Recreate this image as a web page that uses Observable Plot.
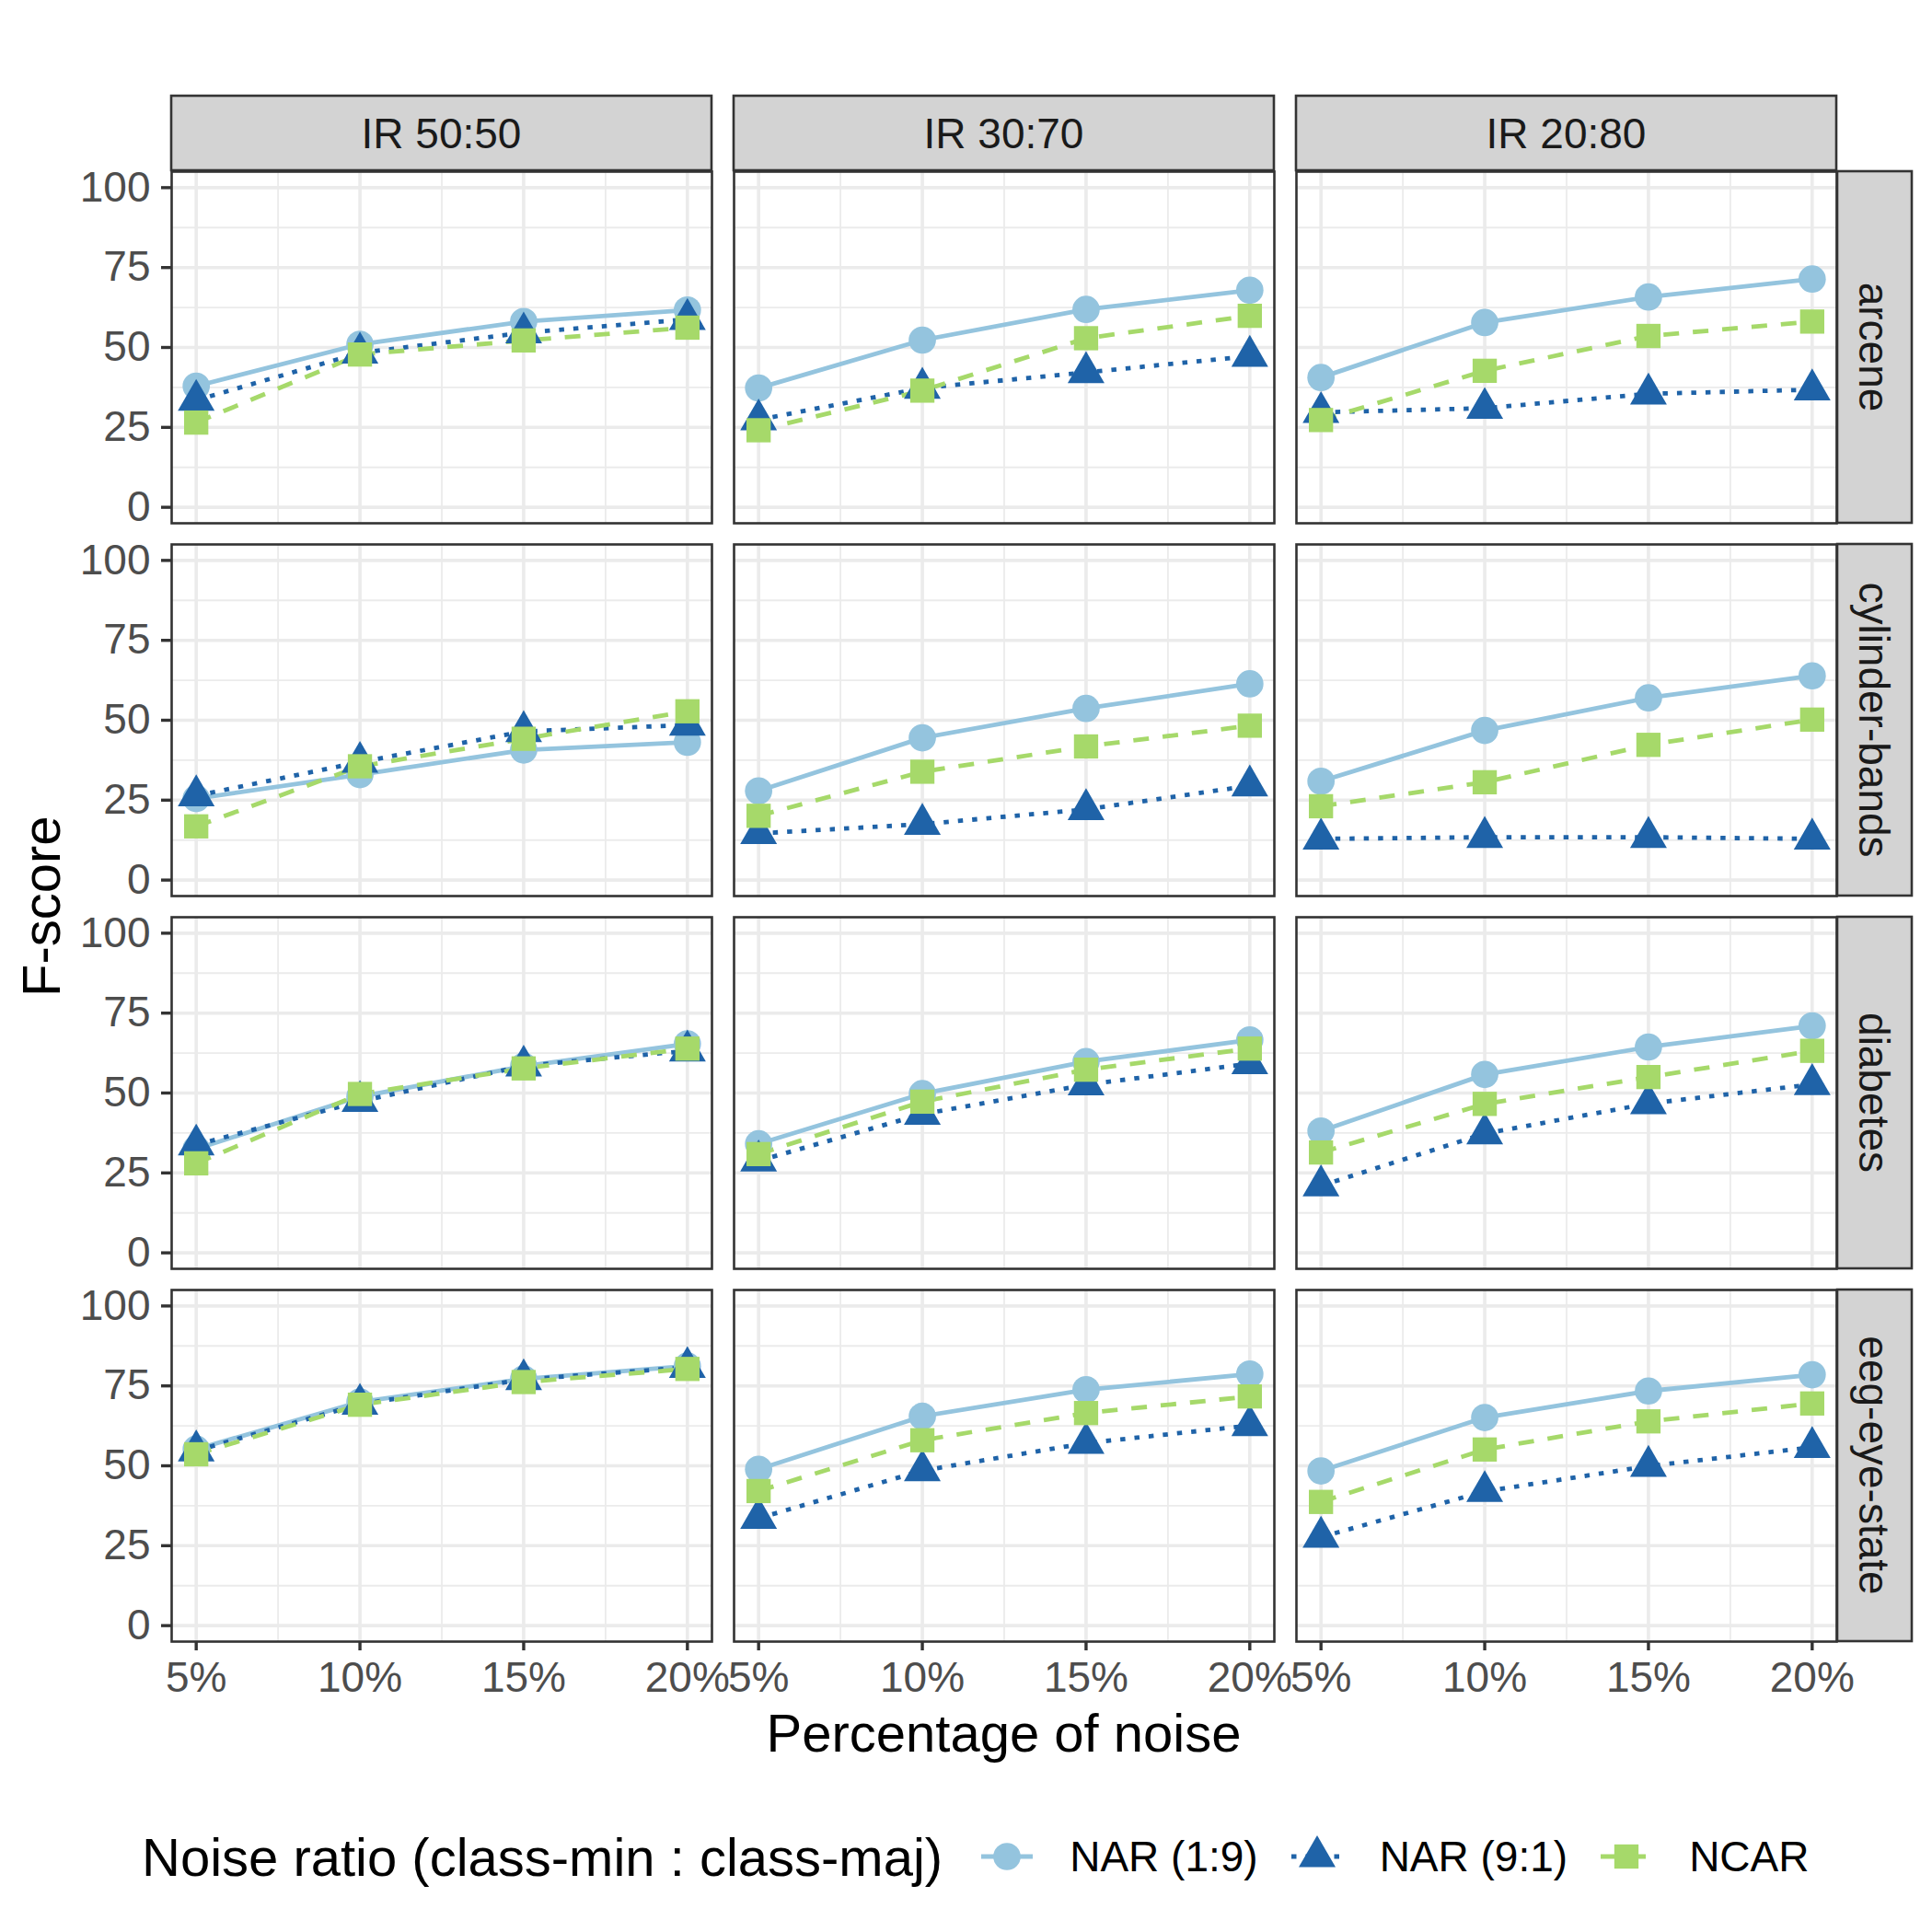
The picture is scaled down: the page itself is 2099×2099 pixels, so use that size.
<!DOCTYPE html>
<html>
<head>
<meta charset="utf-8">
<script src="https://cdn.jsdelivr.net/npm/d3@7"></script>
<script src="https://cdn.jsdelivr.net/npm/@observablehq/plot@0.6"></script>
<style>
  html, body { margin: 0; padding: 0; background: #ffffff; }
  body { font-family: "Liberation Sans", Arial, Helvetica, sans-serif; width: 2099px; }
  #legend { display: flex; align-items: center; height: 154px; padding-left: 154px; color: #000; white-space: nowrap; }
  #legend .ltitle { font-size: 58px; margin-right: 42px; }
  #legend .llabel { font-size: 46px; margin-left: 40px; margin-right: 36px; }
  #legend svg { display: block; }
</style>
</head>
<body>
<div id="chart"></div>
<div id="legend"></div>
<script>
// ---------- data ----------
const irLevels = ["IR 50:50", "IR 30:70", "IR 20:80"];
const datasets = ["arcene", "cylinder-bands", "diabetes", "eeg-eye-state"];
const noiseLevels = [5, 10, 15, 20];
const seriesNames = ["NAR (1:9)", "NAR (9:1)", "NCAR"];
const xTicks = [5, 10, 15, 20];
const xMinor = [7.5, 12.5, 17.5];
const yTicks = [0, 25, 50, 75, 100];
const yMinor = [12.5, 37.5, 62.5, 87.5];

// F-score values: IR 50:50 (5,10,15,20%), IR 30:70 (...), IR 20:80 (...)
const arceneNAR19   = [37.9, 51.0, 58.1, 61.7, 37.3, 52.3, 61.9, 67.9, 40.6, 57.8, 65.8, 71.4];
const arceneNAR91   = [33.5, 48.3, 54.6, 58.8, 27.4, 37.3, 42.2, 47.3, 29.7, 31.0, 35.5, 36.8];
const arceneNCAR    = [26.5, 47.8, 52.2, 56.2, 24.1, 36.5, 52.9, 59.9, 27.3, 42.7, 53.6, 58.1];
const cylinderNAR19 = [25.5, 33.0, 40.7, 43.1, 27.9, 44.5, 53.7, 61.4, 30.9, 46.8, 57.0, 63.9];
const cylinderNAR91 = [26.4, 36.9, 46.5, 48.5, 14.6, 17.5, 22.1, 29.5, 12.9, 13.4, 13.4, 12.9];
const cylinderNCAR  = [16.8, 35.6, 44.2, 52.8, 20.1, 33.9, 41.8, 48.3, 23.1, 30.6, 42.3, 50.2];
const diabetesNAR19 = [32.5, 48.9, 58.4, 65.4, 34.1, 49.8, 59.8, 66.6, 38.1, 55.8, 64.4, 71.0];
const diabetesNAR91 = [33.8, 47.4, 58.5, 63.2, 28.8, 43.4, 52.6, 59.2, 21.0, 37.3, 46.7, 52.7];
const diabetesNCAR  = [28.0, 49.7, 57.7, 63.9, 30.9, 47.3, 57.3, 63.9, 31.4, 46.6, 55.0, 63.2];
const eegNAR19      = [55.2, 70.0, 77.2, 81.2, 48.9, 65.5, 73.8, 78.7, 48.4, 65.1, 73.4, 78.5];
const eegNAR91      = [54.7, 69.3, 77.0, 80.8, 33.6, 48.5, 57.1, 62.6, 27.7, 42.0, 49.9, 55.8];
const eegNCAR       = [53.6, 69.1, 76.2, 80.3, 42.1, 58.0, 66.5, 71.7, 38.7, 55.1, 63.9, 69.5];

const seriesColors = ["#94c4de", "#1f63a8", "#a6d96a"];
const seriesSymbols = ["circle", "triangle", "square"];
const seriesDash = [null, "5.5,10", "17,15"];

// ---------- table ----------
const byDataset = {
  "arcene": [arceneNAR19, arceneNAR91, arceneNCAR],
  "cylinder-bands": [cylinderNAR19, cylinderNAR91, cylinderNCAR],
  "diabetes": [diabetesNAR19, diabetesNAR91, diabetesNCAR],
  "eeg-eye-state": [eegNAR19, eegNAR91, eegNCAR]
};
const rows = [];
seriesNames.forEach((s, si) => {
  datasets.forEach(ds => {
    irLevels.forEach((ir, ii) => {
      noiseLevels.forEach((n, ni) => {
        rows.push({series: s, dataset: ds, ir: ir, noise: n, value: byDataset[ds][si][ii * 4 + ni]});
      });
    });
  });
});

// ---------- plot ----------
const W = 2099, H = 1940;
const FONT = "'Liberation Sans', Arial, Helvetica, sans-serif";
const panelBottom = 1784.5;
const LW = 4.8;

const chart = Plot.plot({
  width: W,
  height: H,
  marginLeft: 185,
  marginRight: 103,
  marginTop: 185,
  marginBottom: H - panelBottom,
  style: {fontFamily: FONT, fontSize: "46px", background: "#ffffff", overflow: "visible"},
  fx: {domain: irLevels, paddingInner: 0.04, paddingOuter: 0, axis: null, label: null},
  fy: {domain: datasets, paddingInner: 0.0567, paddingOuter: 0, axis: null, label: null},
  x: {domain: [4.25, 20.75], label: null},
  y: {domain: [-5, 105], label: null},
  symbol: {domain: seriesNames, range: seriesSymbols},
  color: {domain: seriesNames, range: seriesColors},
  marks: [
    Plot.gridX(xMinor, {stroke: "#EBEBEB", strokeOpacity: 1, strokeWidth: 1.8}),
    Plot.gridY(yMinor, {stroke: "#EBEBEB", strokeOpacity: 1, strokeWidth: 1.8}),
    Plot.gridX(xTicks, {stroke: "#EBEBEB", strokeOpacity: 1, strokeWidth: 3.6}),
    Plot.gridY(yTicks, {stroke: "#EBEBEB", strokeOpacity: 1, strokeWidth: 3.6}),
    ...seriesNames.map((s, si) => Plot.line(rows.filter(r => r.series === s), {
      x: "noise", y: "value", fx: "ir", fy: "dataset",
      stroke: seriesColors[si], strokeWidth: LW,
      strokeDasharray: seriesDash[si], strokeLinecap: "butt", strokeLinejoin: "round"
    })),
    Plot.dot(rows, {
      x: "noise", y: "value", fx: "ir", fy: "dataset",
      symbol: "series", fill: "series", stroke: null, r: 14.85
    }),
    Plot.frame({stroke: "#333333", strokeWidth: 2.6}),
    Plot.axisX(xTicks, {
      anchor: "bottom", tickFormat: d => d + "%", tickSize: 10, tickPadding: 12,
      stroke: "#333333", strokeWidth: 3.4, fill: "#4D4D4D", fontSize: 46, label: null
    }),
    Plot.axisY(yTicks, {
      anchor: "left", tickSize: 11, tickPadding: 12,
      stroke: "#333333", strokeWidth: 3.4, fill: "#4D4D4D", fontSize: 46, label: null
    })
  ]
});
document.getElementById("chart").appendChild(chart);

// ---------- strips & titles ----------
const svg = d3.select(chart);
const fxS = chart.scale("fx"), fyS = chart.scale("fy");
const stripTop = 104, stripH = 185 - 104;
const stripLeft = W - 103, stripW = 81;
const gStrip = svg.append("g").attr("font-family", FONT).attr("font-size", 46);

irLevels.forEach(ir => {
  const x0 = fxS.apply(ir), bw = fxS.bandwidth;
  gStrip.append("rect").attr("x", x0).attr("y", stripTop).attr("width", bw).attr("height", stripH)
    .attr("fill", "#D3D3D3").attr("stroke", "#333333").attr("stroke-width", 2.6);
  gStrip.append("text").attr("x", x0 + bw / 2).attr("y", stripTop + stripH / 2)
    .attr("text-anchor", "middle").attr("dy", "0.35em").attr("fill", "#1A1A1A").text(ir);
});
datasets.forEach(ds => {
  const y0 = fyS.apply(ds), bh = fyS.bandwidth;
  gStrip.append("rect").attr("x", stripLeft).attr("y", y0).attr("width", stripW).attr("height", bh)
    .attr("fill", "#D3D3D3").attr("stroke", "#333333").attr("stroke-width", 2.6);
  gStrip.append("text")
    .attr("transform", `translate(${stripLeft + stripW / 2},${y0 + bh / 2}) rotate(90)`)
    .attr("text-anchor", "middle").attr("dy", "0.35em").attr("fill", "#1A1A1A").text(ds);
});

svg.append("text").attr("x", (185 + (W - 103)) / 2).attr("y", 1903)
  .attr("text-anchor", "middle").attr("font-family", FONT).attr("font-size", 58)
  .attr("fill", "#000").text("Percentage of noise");
svg.append("text").attr("transform", `translate(65,${(185 + panelBottom) / 2}) rotate(-90)`)
  .attr("text-anchor", "middle").attr("font-family", FONT).attr("font-size", 58)
  .attr("fill", "#000").text("F-score");

// ---------- legend ----------
const legend = d3.select("#legend");
legend.append("span").attr("class", "ltitle").text("Noise ratio (class-min : class-maj)");
const symTypes = {circle: d3.symbolCircle, triangle: d3.symbolTriangle, square: d3.symbolSquare};
seriesNames.forEach((s, si) => {
  const kw = 56, kh = 52;
  const k = legend.append("svg").attr("width", kw).attr("height", kh);
  const ln = k.append("line").attr("x1", 0).attr("x2", kw).attr("y1", kh / 2).attr("y2", kh / 2)
    .attr("stroke", seriesColors[si]).attr("stroke-width", LW);
  if (seriesDash[si]) ln.attr("stroke-dasharray", seriesDash[si]);
  k.append("path").attr("transform", `translate(${kw / 2},${kh / 2})`)
    .attr("d", d3.symbol().type(symTypes[seriesSymbols[si]]).size(Math.PI * 14.85 * 14.85)())
    .attr("fill", seriesColors[si]);
  legend.append("span").attr("class", "llabel").text(s);
});
</script>
</body>
</html>
